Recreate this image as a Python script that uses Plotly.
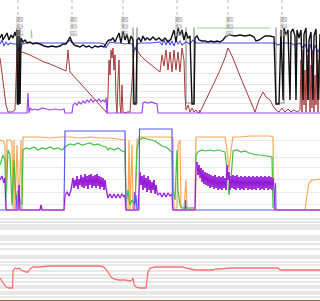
import plotly.graph_objects as go

# ---------------- data (levels; axes are inverted) -------------
event_x = [18, 72, 123, 177, 228, 282]
event_labels = ["最高值", "最高值", "最高值", "最高值", "最高值", "最高值"]

# panel 1
black_x = [0,2,3,5,7,9,11,13,15,16,17,17.5,18.5,19,20,21,23,25,27,30,33,36,40,44,48,52,56,60,63,66,68,70,72,74,77,80,83,86,89,92,95,98,101,104,107,109,111,113,115,117,119,121,123,125,127,129,131,133,134,136,137,139,141,143,145,147,150,153,156,159,162,165,168,171,174,176,178,180,182,184,186,188,190,192,194,195,197,199,202,205,208,211,214,217,220,223,226,230,235,240,245,250,254,256,259,262,265,270,274,276,279,281,283,284,286,288,290,291,293,295,296,297,299,301,303,304,306,308,309,311,313,314,316,318,320]
black_y = [38,34,40,36,33,40,35,38,32,36,30,104,104,30,104,38,42,40,43,42,44,43,44,46,47,46,47,46,44,44,40,37,42,45,46,47,45,47,46,48,46,47,46,47,42,40,40,38,42,37,33,43,31,40,34,44,36,40,104,104,40,38,42,36,40,38,40,37,40,38,41,38,42,39,30,42,28,35,30,40,32,38,36,104,104,38,36,40,41,41,42,41,42,41,42,40,36,35,36,35,36,35,37,41,40,38,36,36,37,104,104,30,100,28,35,30,100,32,29,36,100,30,38,30,100,34,28,100,40,32,100,36,29,100,34]

blue1_x = [0,2,4,6,8,10,14,17,18,20,22,26,30,40,50,60,66,68,70,72,80,90,100,104,106,108,110,115,120,125,130,133,135,137,140,150,160,162,164,166,168,170,172,174,176,178,180,182,184,186,190,193,196,200,210,220,230,240,250,260,270,275,278,282,290,295,300,303,305,308,310,313,315,318,320]
blue1_y = [44,40,46,42,45,43,44,44,50,52,44,43,43,43,43,43,43,42,40,43,43,43,43,44,48,44,42,43,43,44,43,45,50,44,43,43,42,45,40,45,40,45,41,46,40,44,41,45,43,42,44,40,43,43,43,43,43,43,43,43,43,43,45,43,43,45,43,48,44,52,44,55,45,52,48]

red1_x = [0,3,6,8,12,15,16,17,18,20,22,30,40,44,50,60,66,67,68,69,70,80,90,100,107,108,109,110,111,112,113,114,115,116,117,118,119,120,121,122,123,125,127,130,134,136,140,145,150,155,160,162,164,166,168,170,172,174,176,178,180,182,184,185,186,188,190,192,194,196,198,200,205,210,215,220,225,228,230,232,240,248,255,259,263,266,270,273,276,279,282,285,288,291,294,297,300,301,302,303,304,305,306,307,308,309,310,311,312,313,314,315,316,317,318,319,320]
red1_y = [58,80,105,112,112,110,80,50,48,52,52,55,60,62,64,68,71,62,50,62,72,83,94,105,113,95,60,75,50,58,48,70,55,100,113,80,60,105,113,85,112,113,112,112,52,48,55,60,64,68,72,55,66,50,70,52,72,50,70,52,72,48,60,95,110,105,112,108,112,110,113,112,102,91,81,70,58,48,52,56,76,96,112,100,92,97,100,106,110,112,108,112,109,112,110,112,110,60,112,50,105,70,112,55,100,48,112,65,108,50,112,75,105,52,112,60,100]

purple1_x = [0,27,28,29,30,32,35,38,42,46,50,55,60,64,65,72,73,75,77,79,81,83,85,87,89,91,93,95,97,99,101,103,105,106,107,142,143,145,148,151,154,157,158,199,199.5,200,320]
purple1_y = [113,113,93,113,108,110,109,110,108,109,110,109,110,109,113,113,105,103,105,102,104,101,103,100,102,99,102,100,101,99,102,100,102,98,113,113,103,102,103,102,103,104,113,113,110,113,113]

gray1_x = [16.5,17,17,20,20,20.5,None,132.5,133,133,137,137,137.5,None,185.5,186,186,194,194,194.5,None,275.5,276,276,284,284,284.5]
gray1_y = [28,28,103,103,28,28,None,28,28,103,103,28,28,None,28,28,103,103,28,28,None,28,28,103,103,28,28]

green1_x = [31,31.5,32,None,197,230,270]
green1_y = [38,30,38,None,28,28,28]

# panel 2
orange_x = [0,3,5,6,7,10,12,13,14,15,17,19,21,22,23,30,40,50,60,70,80,90,100,110,120,125,126,128,129,130,132,133,135,137,139,145,150,155,160,165,170,173,174,177,178,180,181,184,186,187,195,196,205,215,225,227,229,231,233,240,250,260,270,273,274,300,305,307,309,312,316,320]
orange_y = [140,141,145,210,140,140,142,210,140,210,145,210,140,210,137,137,137,138,137,137,138,137,138,138,139,140,210,210,140,210,145,210,210,140,137,137,137,137,137,137,137,138,208,208,145,140,208,208,180,208,208,137,137,137,137,150,170,150,137,137,136,136,136,137,210,210,210,195,183,180,180,179]

green2_x = [0,3,5,6,8,10,12,14,16,18,20,22,23,26,30,34,38,42,46,50,54,58,62,66,70,74,78,82,86,90,94,98,102,106,108,110,114,118,122,125,126,128,130,132,135,137,139,143,147,151,155,158,162,166,170,172,173,175,177,178,180,182,195,196,198,202,206,210,214,218,222,225,227,229,231,233,237,241,245,249,253,257,261,265,269,272,273]
green2_y = [165,155,160,205,150,155,205,160,200,190,200,205,150,148,149,147,150,148,149,147,149,148,150,146,144,145,143,145,144,143,145,144,146,147,150,148,150,148,151,152,205,190,205,200,205,150,140,138,139,140,141,143,146,147,150,152,190,200,150,190,205,208,208,155,152,150,151,150,151,150,151,152,170,195,180,151,150,152,151,153,154,155,155,156,157,157,208]

blue2_x = [0,16,17,18,19,20,64,65,125,126,134,134.5,135,136,137,139,139.5,172,172.5,185,185.5,186,275,275.5,276,320]
blue2_y = [210,210,195,210,200,210,210,131,131,210,210,192,203,195,210,210,129,129,210,210,200,210,210,183,210,210]

purple2_x = [0,2,4,5,6,18,19,20,40,41,42,64,65,67,69,71,72,73,74,75,76,77,78,79,80,81,82,83,84,85,86,87,88,89,90,91,92,93,94,95,96,97,98,99,100,101,102,103,104,105,106,107,108,110,112,114,116,118,120,122,124,125,126,138,139,140,141,142,143,144,145,146,147,148,149,150,151,152,153,154,155,156,157,158,160,162,164,166,168,170,172,173,195,196,197,198,199,200,201,202,203,204,205,206,207,208,209,210,211,212,213,214,215,216,217,218,219,220,221,222,223,224,225,226,227,228,229,230,231,232,233,234,235,236,237,238,239,240,241,242,243,244,245,246,247,248,249,250,251,252,253,254,255,256,257,258,259,260,261,262,263,264,265,266,267,268,269,270,271,272,273,274,275,320]
purple2_y = [180,176,183,178,210,210,185,210,210,205,210,210,195,192,196,190,184,178,188,180,186,176,189,179,185,175,187,177,188,174,186,176,189,175,185,174,188,176,186,175,188,174,186,176,189,177,187,178,190,180,188,194,198,194,198,194,198,194,198,194,197,195,210,210,190,172,185,176,190,175,188,178,192,176,190,180,193,182,190,180,194,185,192,195,193,197,193,197,193,196,194,210,210,165,162,175,165,178,168,182,170,184,172,185,173,186,174,188,175,187,176,189,175,188,177,190,176,189,177,190,176,188,178,190,165,180,172,190,176,188,175,189,176,190,175,188,177,190,176,189,177,190,176,188,177,190,176,189,177,190,176,189,177,190,176,188,177,190,176,189,177,190,176,188,177,190,176,189,177,190,178,188,210,210]

# panel 3
red3_x = [0,2,4,6,9,12,12.5,13,15,17,19,21,23,26,28,30,33,40,50,60,70,80,90,100,104,106,108,111,114,118,125,130,132,133,134,136,140,146,147,148,150,155,165,175,183,186,190,195,200,205,210,213,216,220,230,240,250,260,270,278,280,290,300,310,320]
red3_y = [278,281,285,287,288,288,288,271,268,269,268,270,271,272,272,269,267,267,266,266,266,266,266,266,267,269,272,277,279,280,280,281,280,278,284,287,288,288,280,272,268,267,267,267,267,268,269,270,270,270,270,270,269,269,268,268,268,268,268,268,270,270,270,270,270]

grid1 = [55, 63, 74, 85, 92, 98, 104]
grid2 = [127, 141, 158, 168, 180, 193, 205]
grid3 = [216, 219, 222, 225, 227, 229, 236, 238, 240, 244, 249, 256, 258, 262, 265, 271, 275, 278, 282, 286, 288, 292, 294, 297]

# ---------------- figure ----------------
fig = go.Figure()

def line(x, y, color, width, yaxis):
    fig.add_trace(go.Scatter(x=x, y=y, mode="lines", yaxis=yaxis, xaxis="x",
                             line=dict(color=color, width=width), hoverinfo="skip",
                             connectgaps=False, showlegend=False))

# panel 1
line(gray1_x, gray1_y, "#909090", 1.2, "y3")
line(green1_x, green1_y, "#8fd88f", 1, "y3")
line(red1_x, red1_y, "#a83a3a", 1, "y3")
line(purple1_x, purple1_y, "#9b4dea", 1.2, "y3")
line(blue1_x, blue1_y, "#4a4ae8", 1.1, "y3")
line(black_x, black_y, "#111111", 1.4, "y3")

# panel 2
line(orange_x, orange_y, "#f6a957", 1.2, "y2")
line(green2_x, green2_y, "#3fc23f", 1.2, "y2")
line(blue2_x, blue2_y, "#5a5aee", 1.2, "y2")
line(purple2_x, purple2_y, "#d8b0f5", 2, "y2")
line(purple2_x, purple2_y, "#8a00d0", 0.9, "y2")

# panel 3
line(red3_x, red3_y, "#f27373", 1.3, "y")

common_x = dict(range=[0, 320], showgrid=False, zeroline=False, showticklabels=False, ticks="")
fig.update_layout(
    width=320, height=301,
    margin=dict(l=0, r=0, t=0, b=0),
    paper_bgcolor="white", plot_bgcolor="white",
    xaxis=dict(anchor="y", showline=True, linecolor="#8b6a4a", linewidth=2, **common_x),
    xaxis2=dict(anchor="y2", matches="x", showline=True, linecolor="#d9a06a", linewidth=2, **common_x),
    xaxis3=dict(anchor="y3", matches="x", showline=True, linecolor="#e2e2e2", linewidth=3, **common_x),
    xaxis4=dict(anchor="y3", matches="x", side="top", showline=True, linecolor="#a8a8a8", linewidth=1,
                range=[0, 320], showgrid=False, zeroline=False, showticklabels=False,
                ticks="inside", ticklen=3, tickcolor="#a8a8a8", dtick=16, tick0=4),
    yaxis=dict(domain=[0.0033, 0.2857], range=[300, 215], tickvals=grid3, showticklabels=False,
               gridcolor="#e8e8e8", gridwidth=2, zeroline=False, ticks=""),
    yaxis2=dict(domain=[0.2957, 0.5814], range=[212, 126], tickvals=grid2, showticklabels=False,
                gridcolor="#ebebeb", gridwidth=1, zeroline=False, ticks=""),
    yaxis3=dict(domain=[0.6146, 0.9103], range=[116, 27], tickvals=grid1, showticklabels=False,
                gridcolor="#e6e6e6", gridwidth=1, zeroline=False, ticks=""),
)

for xv, lab in zip(event_x, event_labels):
    fig.add_shape(type="line", xref="x", yref="paper", x0=xv, x1=xv, y0=0.91, y1=1,
                  line=dict(color="#b8b8b8", width=1, dash="dot"))
    fig.add_annotation(x=xv + 2, xref="x", y=0.955, yref="paper", text=lab, showarrow=False,
                       textangle=90, font=dict(size=7, color="#a0a0a0", family="Noto Sans CJK SC"))

fig.write_html("out.html")
